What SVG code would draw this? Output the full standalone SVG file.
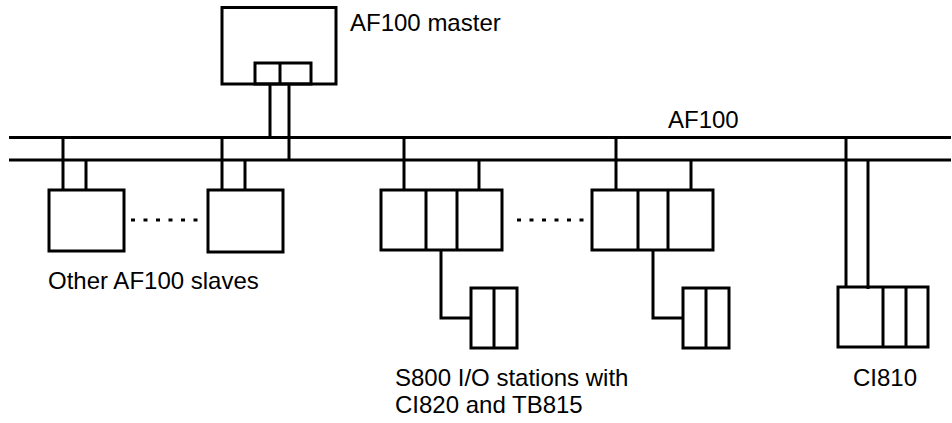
<svg xmlns="http://www.w3.org/2000/svg" width="952" height="423" viewBox="0 0 952 423">
<style>
.s{fill:none;stroke:#000;stroke-width:3}
.d{fill:none;stroke:#000;stroke-width:3;stroke-dasharray:4 8.5}
.t{font-family:"Liberation Sans",Arial,sans-serif;font-size:24px;fill:#000}
</style>
<rect width="952" height="423" fill="#fff"/>
<g id="connectors">
<line class="s" x1="9" y1="137.5" x2="951" y2="137.5"/>
<line class="s" x1="9" y1="160" x2="951" y2="160"/>
<line class="s" x1="270" y1="84" x2="270" y2="137.5"/>
<line class="s" x1="289" y1="84" x2="289" y2="160"/>
<line class="s" x1="63" y1="137" x2="63" y2="190"/>
<line class="s" x1="86" y1="160" x2="86" y2="190"/>
<line class="s" x1="222" y1="136" x2="222" y2="190"/>
<line class="s" x1="245" y1="160" x2="245" y2="190"/>
<line class="s" x1="404" y1="136" x2="404" y2="190"/>
<line class="s" x1="479" y1="160" x2="479" y2="190"/>
<line class="s" x1="616" y1="136" x2="616" y2="190"/>
<line class="s" x1="691" y1="160" x2="691" y2="190"/>
<polyline class="s" points="441,250 441,318 471,318"/>
<polyline class="s" points="653,250 653,318 683,318"/>
<line class="s" x1="846" y1="137" x2="846" y2="287"/>
<line class="s" x1="868" y1="160" x2="868" y2="289"/>
<line class="d" x1="131" y1="220" x2="202" y2="220"/>
<line class="d" x1="517" y1="220" x2="588" y2="220"/>
</g>
<g id="master">
<rect class="s" x="222" y="7.5" width="114" height="76.5"/>
<rect class="s" x="255" y="63" width="56" height="21"/>
<line class="s" x1="280" y1="63" x2="280" y2="84"/>
<text class="t" x="350" y="31">AF100 master</text>
</g>
<g id="bus-label"><text class="t" x="668" y="128">AF100</text></g>
<g id="slave1"><rect class="s" x="49" y="190" width="75" height="61"/></g>
<g id="slave2"><rect class="s" x="208" y="190" width="75" height="62"/></g>
<g id="slaves-label"><text class="t" x="48" y="289">Other AF100 slaves</text></g>
<g id="s800-1">
<rect class="s" x="381" y="190" width="121" height="60"/>
<line class="s" x1="426" y1="190" x2="426" y2="250"/>
<line class="s" x1="457" y1="190" x2="457" y2="250"/>
</g>
<g id="tb1">
<rect class="s" x="471" y="288" width="46" height="60"/>
<line class="s" x1="494" y1="288" x2="494" y2="348"/>
</g>
<g id="s800-2">
<rect class="s" x="592" y="190" width="121" height="60"/>
<line class="s" x1="638" y1="190" x2="638" y2="250"/>
<line class="s" x1="668" y1="190" x2="668" y2="250"/>
</g>
<g id="tb2">
<rect class="s" x="683" y="288" width="46" height="60"/>
<line class="s" x1="706" y1="288" x2="706" y2="348"/>
</g>
<g id="s800-label">
<text class="t" x="395" y="386">S800 I/O stations with</text>
<text class="t" x="395" y="413">CI820 and TB815</text>
</g>
<g id="ci810">
<rect class="s" x="838" y="287" width="90" height="60"/>
<line class="s" x1="883" y1="287" x2="883" y2="347"/>
<line class="s" x1="906" y1="287" x2="906" y2="347"/>
<text class="t" x="853" y="386">CI810</text>
</g>
</svg>
